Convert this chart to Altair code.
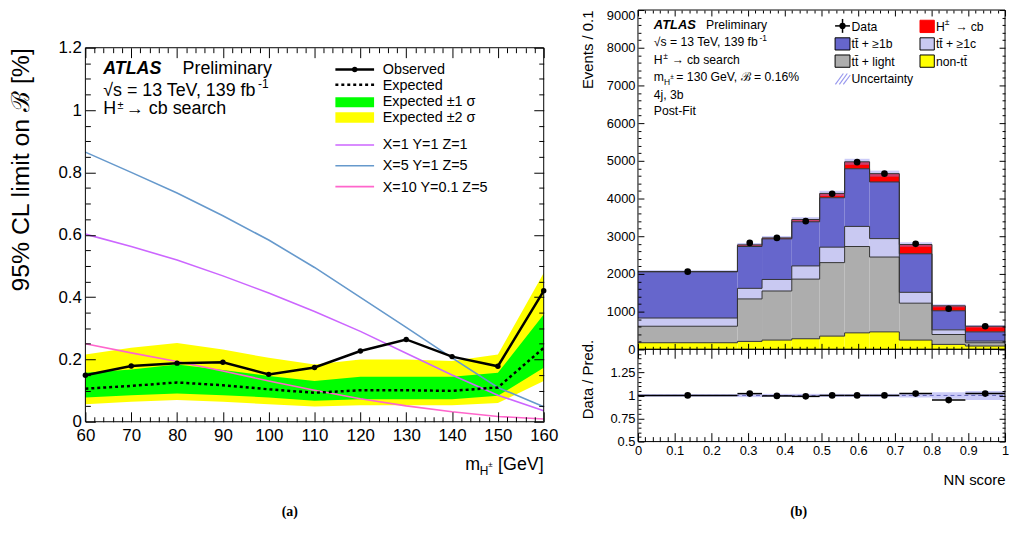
import altair as alt
import pandas as pd

FONT = "Liberation Sans"
SERIF = "Liberation Serif"

# ======================= (a) limits on B(H+ -> cb) =======================
mass = [60, 70, 80, 90, 100, 110, 120, 130, 140, 150, 160]
observed = [0.149, 0.179, 0.188, 0.191, 0.152, 0.174, 0.227, 0.264, 0.209, 0.178, 0.420]
expected = [0.106, 0.115, 0.126, 0.117, 0.104, 0.093, 0.101, 0.101, 0.099, 0.110, 0.237]
band1_lo = [0.078, 0.085, 0.091, 0.085, 0.078, 0.067, 0.072, 0.072, 0.072, 0.083, 0.173]
band1_hi = [0.157, 0.168, 0.184, 0.166, 0.147, 0.131, 0.144, 0.144, 0.144, 0.157, 0.344]
band2_lo = [0.056, 0.064, 0.070, 0.064, 0.056, 0.049, 0.053, 0.053, 0.053, 0.060, 0.131]
band2_hi = [0.216, 0.237, 0.253, 0.232, 0.205, 0.184, 0.200, 0.200, 0.195, 0.216, 0.477]
model_x1_y1_z1 = [0.602, 0.562, 0.519, 0.468, 0.413, 0.354, 0.290, 0.220, 0.150, 0.085, 0.035]
model_x5_y1_z5 = [0.865, 0.800, 0.734, 0.661, 0.583, 0.495, 0.399, 0.303, 0.205, 0.110, 0.048]
model_x10_y01_z5 = [0.250, 0.221, 0.193, 0.163, 0.131, 0.101, 0.074, 0.051, 0.032, 0.017, 0.009]
model_names = ["X=1 Y=1 Z=1", "X=5 Y=1 Z=5", "X=10 Y=0.1 Z=5"]
model_colors = ["#cc66ff", "#6699cc", "#ff66cc"]
mass_ticks = [60, 70, 80, 90, 100, 110, 120, 130, 140, 150, 160]
limit_ticks = [0, 0.2, 0.4, 0.6, 0.8, 1.0, 1.2]
legend_a_1 = ["Observed", "Expected", "Expected \u00b11 \u03c3", "Expected \u00b12 \u03c3"]

# ======================= (b) NN score distribution =======================
bin_lo = [0.000, 0.271, 0.338, 0.419, 0.495, 0.563, 0.631, 0.712, 0.801, 0.892]
bin_hi = [0.271, 0.338, 0.419, 0.495, 0.563, 0.631, 0.712, 0.801, 0.892, 1.000]
yield_non_tt = [175, 210, 245, 280, 350, 437, 463, 245, 131, 87]
yield_tt_light = [437, 1127, 1302, 1582, 1950, 2290, 1985, 979, 262, 88]
yield_tt_1c = [218, 280, 306, 350, 410, 533, 489, 288, 123, 43]
yield_tt_1b = [1224, 1110, 1075, 1171, 1311, 1530, 1503, 1023, 507, 245]
yield_hpm_cb = [11, 44, 27, 61, 114, 184, 220, 245, 131, 149]
data_events = [2060, 2823, 2955, 3400, 4126, 4965, 4660, 2797, 1075, 612]
uncertainty = [30, 50, 50, 60, 70, 80, 80, 60, 40, 30]
ratio_data = [1.00, 1.02, 0.995, 0.99, 1.00, 1.00, 1.00, 1.02, 0.95, 1.02]
comp_colors = ["#ffff00", "#adadad", "#c9c9f2", "#6666cc", "#ff0000"]
nn_ticks = [0, 0.1, 0.2, 0.3, 0.4, 0.5, 0.6, 0.7, 0.8, 0.9, 1.0]
events_ticks = [0, 1000, 2000, 3000, 4000, 5000, 6000, 7000, 8000, 9000]
ratio_ticks = [0.5, 0.75, 1.0, 1.25, 1.5]
TT = "t" + "t\u0304"
legend_b_left = ["Data", TT + " + \u22651b", TT + " + light", "Uncertainty"]
legend_b_right = [TT + " + \u22651c", "non-" + TT]

# minor tick positions
mass_minor = [m for m in range(60, 161, 2) if m % 10]
limit_minor = [round(0.05 * i, 2) for i in range(25) if i % 4]
nn_minor = [round(0.02 * i, 2) for i in range(51) if i % 5]
events_minor = [200 * i for i in range(46) if i % 5]
ratio_minor = [round(0.5 + 0.05 * i, 2) for i in range(21) if i % 5]

# ---------------- layout (one layered view holding all three panels) ----------------
W, H = 927, 435                    # whole view
LX0, LX1, LY0, LY1 = 0, 462, 38, 415     # panel (a)
RX0, RX1 = 557, 927                      # panel (b)
UY0, UY1 = 0, 342                        # (b) upper
QY0, QY1 = 342, 435                      # (b) ratio

XL = alt.Scale(domain=[60, 160], range=[LX0, LX1], nice=False, zero=False)
YL = alt.Scale(domain=[0, 1.2], range=[LY1, LY0], nice=False, zero=False)
XN = alt.Scale(domain=[0, 1], range=[RX0, RX1], nice=False, zero=False)
YU = alt.Scale(domain=[0, 9000], range=[UY1, UY0], nice=False, zero=False)
YR = alt.Scale(domain=[0.5, 1.5], range=[QY1, QY0], nice=False, zero=False)

ONE = pd.DataFrame({"k": [0]})


def ax(orient, values, ts, edge, labels=False, **kw):
    """Axis whose ticks point inward from the panel edge `edge`."""
    if orient == "bottom":
        off = edge - ts - H
    elif orient in ("top", "left"):
        off = -(edge + ts)
    else:
        off = edge - ts - W
    props = dict(orient=orient, values=values, tickSize=ts, offset=off, labels=labels,
                 domain=False, grid=False, tickColor="black", tickWidth=1, zindex=2,
                 labelFlush=False, labelOverlap=False)
    if "title" not in kw:
        props["title"] = None
    props.update(kw)
    return alt.Axis(**props)


def txt(x, y, text, size, align="left", baseline="alphabetic", font=FONT, **kw):
    return alt.Chart(ONE).mark_text(text=text, fontSize=size, align=align, baseline=baseline,
                                    font=font, color="black", **kw).encode(
        x=alt.value(x), y=alt.value(y))


def seg(x1, y1, x2, y2, color, width, dash=None):
    props = dict(color=color, strokeWidth=width)
    if dash:
        props["strokeDash"] = dash
    return alt.Chart(ONE).mark_rule(**props).encode(
        x=alt.value(x1), y=alt.value(y1), x2=alt.value(x2), y2=alt.value(y2))


def box(x1, y1, x2, y2, fill, stroke=None):
    props = dict(fill=fill)
    if stroke:
        props.update(stroke=stroke, strokeWidth=1)
    return alt.Chart(ONE).mark_rect(**props).encode(
        x=alt.value(x1), x2=alt.value(x2), y=alt.value(y1), y2=alt.value(y2))


def dot(x, y, size):
    return alt.Chart(ONE).mark_circle(size=size, color="black", opacity=1).encode(
        x=alt.value(x), y=alt.value(y))


def frame(x0, y0, x1, y1):
    return alt.Chart(ONE).mark_rect(filled=False, color="black", strokeWidth=1).encode(
        x=alt.value(x0), x2=alt.value(x1), y=alt.value(y0), y2=alt.value(y1))


# ----------------------------- panel (a) -----------------------------
dl = pd.DataFrame({"mass": mass, "obs": observed, "exp": expected,
                   "lo1": band1_lo, "hi1": band1_hi, "lo2": band2_lo, "hi2": band2_hi})

a_x_major = ax("bottom", mass_ticks, 10, LY1, labels=True, labelPadding=6, labelFontSize=17,
               format="d")
a_y_major = ax("left", limit_ticks, 10, LX0, labels=True, labelPadding=4, labelFontSize=17,
               format=".1~f", title="95% CL limit on \u212c [%]", titleFontSize=25,
               titleAngle=270, titleAlign="right", titleBaseline="middle", titleX=-75, titleY=LY0)

a_yellow = alt.Chart(dl).mark_area(color="#ffff00", opacity=1).encode(
    x=alt.X("mass:Q", scale=XL, axis=a_x_major),
    y=alt.Y("lo2:Q", scale=YL, axis=a_y_major), y2="hi2:Q")
a_green = alt.Chart(dl).mark_area(color="#00ff00", opacity=1).encode(
    x=alt.X("mass:Q", scale=XL, axis=ax("bottom", mass_minor, 5, LY1)),
    y=alt.Y("lo1:Q", scale=YL, axis=ax("left", limit_minor, 5, LX0)), y2="hi1:Q")
a_models = []
for vals, col in zip([model_x1_y1_z1, model_x5_y1_z5, model_x10_y01_z5], model_colors):
    dm = pd.DataFrame({"mass": mass, "val": vals})
    a_models.append(alt.Chart(dm).mark_line(color=col, strokeWidth=1.6).encode(
        x=alt.X("mass:Q", scale=XL, axis=None), y=alt.Y("val:Q", scale=YL, axis=None)))
a_exp = alt.Chart(dl).mark_line(color="black", strokeWidth=2.5, strokeDash=[3, 3]).encode(
    x=alt.X("mass:Q", scale=XL, axis=ax("top", mass_ticks, 10, LY0)),
    y=alt.Y("exp:Q", scale=YL, axis=ax("right", limit_ticks, 10, LX1)))
a_obs = alt.Chart(dl).mark_line(color="black", strokeWidth=2.5).encode(
    x=alt.X("mass:Q", scale=XL, axis=ax("top", mass_minor, 5, LY0)),
    y=alt.Y("obs:Q", scale=YL, axis=ax("right", limit_minor, 5, LX1)))
a_pts = alt.Chart(dl).mark_circle(color="black", size=30, opacity=1).encode(
    x=alt.X("mass:Q", scale=XL, axis=None), y=alt.Y("obs:Q", scale=YL, axis=None))


def A(x, y):
    return LX0 + x, LY0 + y


a_ann = [
    frame(LX0, LY0, LX1, LY1),
    txt(*A(18, 26), "ATLAS", 18, fontWeight="bold", fontStyle="italic"),
    txt(*A(98, 26), "Preliminary", 18),
    txt(*A(18, 48.3), "\u221as = 13 TeV, 139 fb", 18),
    txt(*A(174, 41), "-1", 12),
    txt(*A(18, 67.3), "H", 18),
    txt(*A(32.5, 61.5), "\u00b1", 11),
    txt(*A(41, 67.3), "\u2192 cb search", 18),
    seg(*A(252, 22), *A(291, 22), "black", 2.5),
    dot(*A(271.5, 22), 30),
    seg(*A(252, 37.3), *A(291, 37.3), "black", 2.5, [3, 3]),
    box(*A(252, 50), *A(291, 60), "#00ff00"),
    box(*A(252, 65), *A(291, 75.7), "#ffff00"),
    seg(*A(252, 98), *A(291, 98), model_colors[0], 1.6),
    seg(*A(252, 119), *A(291, 119), model_colors[1], 1.6),
    seg(*A(252, 140), *A(291, 140), model_colors[2], 1.6),
    txt(*A(299.7, 26.9), legend_a_1, 14.5, lineHeight=15.9),
    txt(*A(299.7, 101.9), model_names, 14.5, lineHeight=21.6),
    txt(*A(383, 425.7), "m", 18),
    txt(*A(397.5, 431), "H", 12),
    txt(*A(406, 423), "\u00b1", 8),
    txt(*A(462, 425.7), "[GeV]", 18, align="right"),
    txt(206, 506, "(a)", 14, align="center", baseline="middle", font=SERIF, fontWeight="bold"),
]

# ----------------------------- panel (b), upper -----------------------------
u_y_major = ax("left", events_ticks, 6, RX0, labels=True, labelPadding=3, labelFontSize=13,
               format="d",
               labelBaseline={"condition": {"test": "datum.value >= 9000", "value": "top"},
                              "value": "middle"},
               title="Events / 0.1", titleFontSize=15, titleAngle=270, titleAlign="right",
               titleBaseline="middle", titleX=-57, titleY=UY0)

comp_axes = [
    (ax("bottom", nn_ticks, 6, UY1), u_y_major),
    (ax("bottom", nn_minor, 3, UY1), ax("left", events_minor, 3, RX0)),
    (ax("top", nn_ticks, 6, UY0), ax("right", events_ticks, 6, RX1)),
    (ax("top", nn_minor, 3, UY0), ax("right", events_minor, 3, RX1)),
    (None, None),
]
components = [yield_non_tt, yield_tt_light, yield_tt_1c, yield_tt_1b, yield_hpm_cb]
base = [0] * len(bin_lo)
u_rects, step_frames = [], []
for idx, (vals, col, (ax_x, ax_y)) in enumerate(zip(components, comp_colors, comp_axes)):
    top = [b + v for b, v in zip(base, vals)]
    dfc = pd.DataFrame({"lo": bin_lo, "hi": bin_hi, "y0": base, "y1": top})
    u_rects.append(alt.Chart(dfc).mark_rect(color=col).encode(
        x=alt.X("lo:Q", scale=XN, axis=ax_x), x2="hi:Q",
        y=alt.Y("y0:Q", scale=YU, axis=ax_y), y2="y1:Q"))
    step_frames.append(pd.DataFrame({"x": bin_lo + [bin_hi[-1]], "y": top + [top[-1]], "comp": idx}))
    base = top
total = base

step_df = pd.concat(step_frames, ignore_index=True)
u_steps = alt.Chart(step_df).mark_line(interpolate="step-after", color="#333333", strokeWidth=1).encode(
    x=alt.X("x:Q", scale=XN, axis=None), y=alt.Y("y:Q", scale=YU, axis=None), detail="comp:N")

centers = [(a + b) / 2 for a, b in zip(bin_lo, bin_hi)]
du = pd.DataFrame({"lo": bin_lo, "hi": bin_hi, "c": centers, "data": data_events,
                   "ulo": [t - u for t, u in zip(total, uncertainty)],
                   "uhi": [t + u for t, u in zip(total, uncertainty)]})
u_unc = alt.Chart(du).mark_rect(color="#8c8cf0", opacity=0.45).encode(
    x=alt.X("lo:Q", scale=XN, axis=None), x2="hi:Q",
    y=alt.Y("ulo:Q", scale=YU, axis=None), y2="uhi:Q")
u_pts = alt.Chart(du).mark_circle(color="black", size=45, opacity=1).encode(
    x=alt.X("c:Q", scale=XN, axis=None), y=alt.Y("data:Q", scale=YU, axis=None))


def B(x, y):
    return RX0 + x, UY0 + y


u_ann = [
    frame(RX0, UY0, RX1, UY1),
    txt(*B(16, 18.7), "ATLAS", 13, fontWeight="bold", fontStyle="italic"),
    txt(*B(68.7, 18.7), "Preliminary", 12.3),
    txt(*B(16, 36.3), "\u221as = 13 TeV, 139 fb", 12.3),
    txt(*B(122.5, 31.5), "-1", 8.5),
    txt(*B(16, 54.3), "H", 12.3),
    txt(*B(25.5, 49.8), "\u00b1", 8.5),
    txt(*B(33.7, 54.3), "\u2192 cb search", 12.3),
    txt(*B(16, 72), "m", 12.3),
    txt(*B(26.3, 75.5), "H", 8.5),
    txt(*B(32.6, 70), "\u00b1", 6.5),
    txt(*B(38.7, 72), "= 130 GeV, \u212c = 0.16%", 12.3),
    txt(*B(16, 89.7), "4j, 3b", 12.3),
    txt(*B(16, 106.3), "Post-Fit", 12.3),
    seg(*B(198.7, 16), *B(213.7, 16), "black", 1.5),
    seg(*B(206.2, 9), *B(206.2, 23), "black", 1.5),
    dot(*B(206.2, 16), 40),
    box(*B(198.7, 28), *B(213.7, 40.3), comp_colors[3], "black"),
    box(*B(198.7, 45.3), *B(213.7, 57.7), comp_colors[1], "black"),
    seg(*B(199, 75), *B(207, 64), "#9999ee", 1.2),
    seg(*B(203, 75), *B(211, 64), "#9999ee", 1.2),
    seg(*B(207, 75), *B(214, 65.5), "#9999ee", 1.2),
    txt(*B(215.3, 20.7), legend_b_left, 12.3, lineHeight=17.7),
    box(*B(284.3, 10.3), *B(298.7, 22.7), comp_colors[4], comp_colors[4]),
    box(*B(284.3, 28), *B(298.7, 40.3), comp_colors[2], "black"),
    box(*B(284.3, 45.3), *B(298.7, 57.7), comp_colors[0], "black"),
    txt(*B(300.3, 20.7), "H", 12.3),
    txt(*B(309.2, 15.5), "\u00b1", 8.5),
    txt(*B(319.7, 20.7), "\u2192 cb", 12.3),
    txt(*B(300.3, 38.7), legend_b_right, 12.3, lineHeight=17.3),
]

# ----------------------------- panel (b), ratio -----------------------------
q_x_major = ax("bottom", nn_ticks, 9, QY1, labels=True, labelPadding=3, labelFontSize=13,
               format=".1~f", title="NN score", titleFontSize=15, titleAlign="right",
               titleBaseline="middle", titleX=RX1, titleY=47)
q_y_major = ax("left", ratio_ticks, 6, RX0, labels=True, labelPadding=3, labelFontSize=13,
               format=".2~f", labelExpr="datum.value > 1.4 ? '' : datum.label",
               title="Data / Pred.", titleFontSize=15, titleAngle=270, titleAlign="right",
               titleBaseline="middle", titleX=-57, titleY=QY0 - 10)

dq = pd.DataFrame({"lo": bin_lo, "hi": bin_hi, "c": centers, "ratio": ratio_data,
                   "blo": [1 - u / t for t, u in zip(total, uncertainty)],
                   "bhi": [1 + u / t for t, u in zip(total, uncertainty)]})
q_band = alt.Chart(dq).mark_rect(color="#8c8cf0", opacity=0.45).encode(
    x=alt.X("lo:Q", scale=XN, axis=q_x_major), x2="hi:Q",
    y=alt.Y("blo:Q", scale=YR, axis=q_y_major), y2="bhi:Q")
unity = pd.DataFrame({"x0": [nn_ticks[0]], "x1": [nn_ticks[-1]], "y": [1.0]})
q_unity = alt.Chart(unity).mark_rule(color="#6666bb", strokeWidth=1, strokeDash=[4, 3]).encode(
    x=alt.X("x0:Q", scale=XN, axis=ax("bottom", nn_minor, 5, QY1)), x2="x1:Q",
    y=alt.Y("y:Q", scale=YR, axis=ax("left", ratio_minor, 3, RX0)))
q_bars = alt.Chart(dq).mark_rule(color="black", strokeWidth=1.5).encode(
    x=alt.X("lo:Q", scale=XN, axis=ax("top", nn_ticks, 9, QY0)), x2="hi:Q",
    y=alt.Y("ratio:Q", scale=YR, axis=ax("right", ratio_ticks, 6, RX1)))
q_pts = alt.Chart(dq).mark_circle(color="black", size=45, opacity=1).encode(
    x=alt.X("c:Q", scale=XN, axis=ax("top", nn_minor, 5, QY0)),
    y=alt.Y("ratio:Q", scale=YR, axis=ax("right", ratio_minor, 3, RX1)))

q_ann = [
    frame(RX0, QY0, RX1, QY1),
    txt(719, 506, "(b)", 14, align="center", baseline="middle", font=SERIF, fontWeight="bold"),
]

chart = alt.layer(
    a_yellow, a_green, *a_models, a_exp, a_obs, a_pts, *a_ann,
    *u_rects, u_unc, u_steps, u_pts, *u_ann,
    q_band, q_unity, q_bars, q_pts, *q_ann,
).resolve_scale(x="independent", y="independent").resolve_axis(
    x="independent", y="independent").properties(
    width=W, height=H,
    autosize=alt.AutoSizeParams(type="none"),
    padding={"left": 78, "top": 0, "right": 4, "bottom": 77},
).configure(font=FONT).configure_view(stroke="transparent").configure_axis(
    labelFont=FONT, titleFont=FONT, labelColor="black", titleColor="black",
    titleFontWeight="normal")

chart.save("out.html", embed_options={"renderer": "svg", "actions": False})
